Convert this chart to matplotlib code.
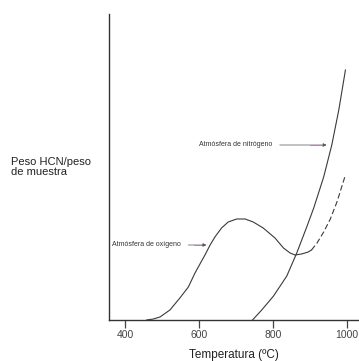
import matplotlib
matplotlib.use("Agg")
import matplotlib.pyplot as plt

plt.rcParams['font.family'] = ['Liberation Sans', 'DejaVu Sans']

# curva en atmósfera de oxígeno (tramo continuo y tramo discontinuo)
oxi_t = [458, 476, 494, 521, 548, 571, 589, 616, 630, 643, 661, 679, 702,
         725, 747, 774, 806, 829, 847, 860, 878, 896, 905]
oxi_h = [0, 1, 3, 10, 22, 33, 47, 65, 75, 83, 92, 98, 101,
         101, 98, 92, 82, 72, 67, 65, 66, 68, 70]
oxi_dash_t = [905, 920, 938, 956, 974, 997]
oxi_dash_h = [70, 77, 88, 101, 118, 145]

# curva en atmósfera de nitrógeno
nit_t = [745, 770, 802, 838, 865, 892, 911, 938, 960, 979, 997]
nit_h = [0, 10, 24, 44, 67, 93, 112, 143, 175, 210, 250]

ticks = [400, 600, 800, 1000]

fig = plt.figure(figsize=(3.59, 3.61), dpi=100)
ax = fig.add_axes([109 / 359, 1 - 320 / 361, 250 / 359, 306 / 361])

line_col = '#3a3a3a'
ax.plot(oxi_t, oxi_h, color=line_col, lw=0.8)
ax.plot(oxi_dash_t, oxi_dash_h, color=line_col, lw=0.8, dashes=(5, 2.5))
ax.plot(nit_t, nit_h, color=line_col, lw=0.8)

ax.set_xlim(355.8, 1033.8)
ax.set_ylim(0, 306)

for s in ['top', 'right']:
    ax.spines[s].set_visible(False)
for s in ['left', 'bottom']:
    ax.spines[s].set_color('#333333')
    ax.spines[s].set_linewidth(1.0)

ax.set_yticks([])
ax.set_xticks(ticks)
ax.set_xticklabels([str(t) for t in ticks], fontsize=7.5, color='#444444')
ax.tick_params(axis='x', direction='out', length=5.5, width=0.9,
               color='#444444', pad=1.5)

ax.set_xlabel("Temperatura (ºC)", fontsize=8.5, color='#222222', labelpad=7)
fig.text(11 / 359, 1 - 167 / 361, "Peso HCN/peso\nde muestra", fontsize=8,
         color='#222222', ha='left', va='center', linespacing=0.95)

# etiquetas con flecha
ax.annotate("Atmósfera de nitrógeno", xy=(946, 175), xytext=(601, 175),
            fontsize=5, color='#333333', va='center', ha='left',
            arrowprops=dict(arrowstyle='-|>', color='#555555', lw=0.5,
                            mutation_scale=5, shrinkA=3, shrinkB=0))
ax.plot([900, 935], [175, 175], color='#d060d0', lw=0.6, alpha=0.7)

ax.annotate("Atmósfera de oxígeno", xy=(620, 75), xytext=(365, 75),
            fontsize=5, color='#333333', va='center', ha='left',
            arrowprops=dict(arrowstyle='-|>', color='#555555', lw=0.5,
                            mutation_scale=5, shrinkA=3, shrinkB=0))
ax.plot([585, 610], [75, 75], color='#d060d0', lw=0.6, alpha=0.7)

fig.savefig("out.png", dpi=100)
